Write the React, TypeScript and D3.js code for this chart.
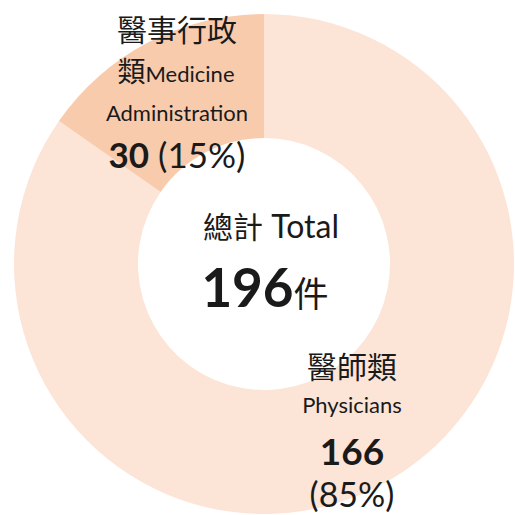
import React from "react";
import * as d3 from "d3";

const categories = ["醫師類", "醫事行政類"];
const englishNames = ["Physicians", "Medicine Administration"];
const counts = [166, 30];
const sliceColors = ["#fce4d6", "#f8cbad"];
const totalLabel = "總計 Total";
const totalUnit = "件";

const width = 515;
const height = 515;
const cx = 264;
const cy = 264;
const outerR = 250;
const innerR = 126;
const latin = "Lato, 'Noto Sans CJK TC', sans-serif";
const cjk = "'Noto Sans CJK TC', sans-serif";

export default function App() {
  const total = d3.sum(counts);
  const pct = (v: number) => `(${Math.round((v / total) * 100)}%)`;

  const pie = d3
    .pie<number>()
    .sort(null)
    .value((d) => d);
  const arcs = pie(counts);
  const arc = d3
    .arc<d3.PieArcDatum<number>>()
    .innerRadius(innerR)
    .outerRadius(outerR);

  return (
    <div style={{ position: "fixed", left: 0, top: 0, background: "#fff" }}>
      <svg width={width} height={height} style={{ display: "block" }}>
        <rect width={width} height={height} fill="#fff" />
        <g transform={`translate(${cx},${cy})`}>
          {arcs.map((a, i) => (
            <path key={categories[i]} d={arc(a) || ""} fill={sliceColors[i]} />
          ))}
        </g>

        {/* admin label */}
        <g fill="#1a1a1a" textAnchor="middle">
          <text x={177} y={41} fontFamily={cjk} fontSize={30}>
            {categories[1].slice(0, 4)}
          </text>
          <text x={176} y={82} fontFamily={latin} fontSize={22}>
            <tspan fontFamily={cjk} fontSize={28}>
              {categories[1].slice(4)}
            </tspan>
            {englishNames[1].split(" ")[0]}
          </text>
          <text x={177} y={121} fontFamily={latin} fontSize={22}>
            {englishNames[1].split(" ")[1]}
          </text>
          <text x={177} y={168} fontFamily={latin} fontSize={35}>
            <tspan fontWeight="bold">{counts[1]}</tspan> {pct(counts[1])}
          </text>
        </g>

        {/* centre */}
        <g fill="#1a1a1a" textAnchor="middle">
          <text x={271} y={238} fontFamily={latin} fontSize={32}>
            <tspan fontFamily={cjk} fontSize={30}>
              {totalLabel.split(" ")[0]}
            </tspan>{" "}
            {totalLabel.split(" ")[1]}
          </text>
          <text x={265} y={307} fontFamily={latin} fontSize={53}>
            <tspan fontWeight="bold">{total}</tspan>
            <tspan fontFamily={cjk} fontSize={35}>
              {totalUnit}
            </tspan>
          </text>
        </g>

        {/* physicians label */}
        <g fill="#1a1a1a" textAnchor="middle">
          <text x={352} y={378} fontFamily={cjk} fontSize={30}>
            {categories[0]}
          </text>
          <text x={352} y={413} fontFamily={latin} fontSize={22}>
            {englishNames[0]}
          </text>
          <text x={352} y={465} fontFamily={latin} fontSize={37} fontWeight="bold">
            {counts[0]}
          </text>
          <text x={352} y={507} fontFamily={latin} fontSize={34}>
            {pct(counts[0])}
          </text>
        </g>
      </svg>
    </div>
  );
}
